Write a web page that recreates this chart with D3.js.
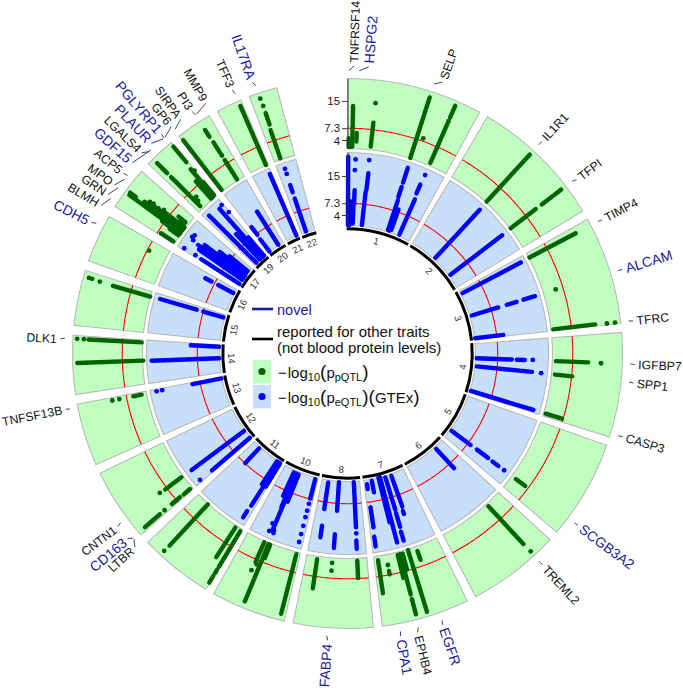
<!DOCTYPE html>
<html>
<head>
<meta charset="utf-8">
<script src="https://cdn.jsdelivr.net/npm/d3@7"></script>
<style>
body { margin:0; background:#fff; }
text { font-family:"Liberation Sans", Arial, sans-serif; }
</style>
</head>
<body>
<script>
var width = 683, height = 688, cx = 347.5, cy = 353.5;

// chromosome sectors, position unit = degrees round the genome circle
var chromNames = ["1","2","3","4","5","6","7","8","10","11","12","13","14","15","16","17","19","20","21","22"];
var chromStart = [0,30.6,60.8,85.6,109.5,132.6,154.2,174.6,193.3,211,228.7,246.2,261.4,275.9,289.7,302.3,313.6,322.2,331.8,339.1];
var chromEnd = [28.7,58.8,83.7,107.7,130.5,152.2,172.7,191.4,209.1,226.6,244.2,259.4,273.8,287.6,299.9,311.5,320.2,329.8,337.2,345.1];

var axisTicks = [4,7.3,15];
var threshold = 7.3;

// columns of overlapping SNPs: [position, lowest -log10p, highest -log10p]
var pqtlRuns = [
	[1.3,2.1,13.6],[0.3,2,4.5],[0.9,2,3.5],[2.4,3.6,6],[6.4,2.5,9.3],[17.8,1.7,19.6],[23.5,2.4,14.4],[23.5,16.3,19.9],
	[42.5,1.9,19.8],[52.5,1.8,10.7],[52.5,12.8,16.4],[52.5,17.2,18.2],[52.5,18.6,19.7],
	[62.2,1.8,16.5],[83.3,2.2,14.1],
	[92.1,2.6,11.7],[95.8,2.6,7.5],[106.9,2.2,7],
	[126.7,3,6.3],
	[137.3,2.4,16.9],
	[171.6,2.7,12.1],[169.2,6.2,7.2],[165.3,2.3,14],[165.3,15.3,19.8],[166,2.3,9],[164.6,2.3,7],[162.9,1.8,20],[160.5,2.9,5.5],
	[177.3,2.3,7.2],[188.4,2.4,10.7],
	[194.3,2.2,19.5],[202.5,2,19.4],[203.8,2,8],[202,2,6],
	[212.8,2.2,12.1],[211.1,2.3,14],[211.1,15,16],[211.1,17,19.2],[222.8,1.8,17.6],
	[233.3,2.2,7.9],[229.3,2.4,4.7],[229.4,6,9],[229.4,13.4,19],
	[258.7,3,5.4],
	[268,1.4,20],[273.1,1.9,16.9],
	[286.1,1.7,12.6],
	[302.8,2.2,6.4],[306,1.9,19.8],[306.5,18,20],[306.8,1.9,15.2],[305.5,1.9,8],[307.3,1.9,13],[307.7,1.9,9.5],[305,2,5],[308.1,2.5,4],[309,2.6,5.1],
	[315,2.5,14.1],[315,15.7,19.7],[319.9,14.3,20],[319.9,2.2,7],[319.2,2,8],[318.6,2,8.5],[319.6,8,12],
	[322.4,2,19.7],[327.6,1.9,8.4],[327.6,10.7,14.3],[327.5,16.2,18.5],
	[336.6,1.7,19.8],
	[341,2,10.4],[341.2,12,15.4]
];
var pqtlDots = [
	[6.4,14.8],[19.4,8.1],[23.5,15.2],[72.9,5.2],[83.4,17.4],[83.4,19.7],[92.2,15.3],[137.2,19.8],[169.2,4.5],
	[184.2,3],[184.2,5.2],[203.9,10.6],[203.3,8.5],[222.9,19.7],[233.4,9.7],[229.4,11.7],[258.7,9.4],[258.7,11.4],
	[273.1,20.1],[273.1,18.2],[286.2,16.5],[286.3,19.7],[286.3,18.8],[297.4,6.8],[327.6,9.9],[341.1,19.7],[341.2,17.5],
	[306.7,15.2],[307.5,14],[307.7,12.9],[307.5,11],[308,9.5],[315.6,4],[316,5.2],[320.1,11]
];
var eqtlRuns = [
	[0.2,1.2,20.4],[0.9,1.2,8],[2.3,1.6,6.1],[2.5,7,11],[6.6,11.4,16.1],[6.4,1.4,10.8],[18,15.6,20],[18,11.4,14.3],[18.2,1.6,10.4],[19.5,2,8],[18.9,1.6,5],[23.3,14.1,16.8],[23.6,1.5,12.4],
	[42.6,1.6,20],[52.6,1.5,19.8],
	[62.3,1.6,20.1],[73,1.6,9.4],[73,11.9,14.8],[73,16.8,20.2],[83.2,1.2,9.2],
	[92.1,1.4,11.3],[92.1,12.7,15],[95.7,1.6,17.2],[106.9,1.3,19.7],
	[126.6,1.5,8.2],[126.6,10.4,14.3],[126.7,15.9,18],
	[137.1,1.7,9.1],
	[171.5,2.2,3.6],[169.2,1.5,4.8],[171.5,8.8,14.5],[171.7,17.1,19.9],[165.3,1,20],[166,1,14],[163,1.5,11],[163.1,12,16],[163.3,17.4,20],[160.3,1.6,10.8],[160.6,12,12.9],
	[177.2,1.3,14],[177.3,17.7,20.1],[188.5,1.7,9.3],[183.8,1.3,9.4],[188.4,14,17.3],[184,16,19.9],
	[194.4,1.5,7.2],[203,1.8,19],[202,1.8,10],[203.3,1.8,12],[204.3,1.8,9],
	[212.3,1.3,15.7],[213.2,1.3,9],[211.5,1.3,9],[212.5,17.6,19.7],[223,1.5,7.2],
	[233.2,1.4,19.8],[229.2,1.3,15.4],
	[258.8,1.2,9.5],
	[267.9,1.2,20.2],[273,1.2,9.2],
	[286.2,1.4,7.3],[286.2,9.2,20],
	[297.9,1.4,6.2],[297.9,8.3,10.3],
	[302.8,1.2,14],[305,1.2,16],[306,1.2,17],[307.2,1.2,15.5],[308.5,1.5,11],[309.5,1.5,8],
	[314.9,1.2,20],[318.5,1.2,19.4],[317,1.2,11],[319.5,1.2,8],
	[327.5,1.3,12.4],[322.6,1.2,5.5],[322.8,7,9.7],
	[336.6,1.2,20.1],
	[341.2,1.3,11.1],[341.2,13,15.1]
];
var eqtlDots = [
	[2.3,16.7],[2.4,19.7],[6.4,19.8],[23.5,19.8],[92,17.2],[95.8,19.8],[126.7,20],[177.2,15.7],
	[194.4,8.7],[194.4,10.7],[194.4,12.6],[194.4,15.1],[194.4,17.5],[194.4,19.8],[203.8,17.3],[203.8,19.6],[202.6,18.9],[202.4,19.7],
	[229.4,19.7],[258.8,19.8],[258.8,18.2],[302.8,19.7],[302.9,16],[306.9,19.7],[307.7,19.4],[306.3,18.9],[319.7,19.8],[320,17],
	[341.3,19.9],[341.3,18.4]
];

// gene labels: real position on the circle, position of the text, novel or not
var geneNames = ["TNFRSF14","HSPG2","SELP","IL1R1","TFPI","TIMP4","ALCAM","TFRC","IGFBP7","SPP1","CASP3","SCGB3A2","TREML2","EGFR","EPHB4","CPA1","FABP4","CNTN1","CD163","LTBR","TNFSF13B","DLK1","CDH5","BLMH","GRN","MPO","ACP5","GDF15","LGALS4","PLAUR","PGLYRP1","GP6","SIRPA","PI3","MMP9","TFF3","IL17RA"];
var genePos = [0.3,2.4,17.8,42.5,52.5,62.2,73,83.4,92.1,95.8,106.9,126.7,137.3,160.5,165.5,169.2,184.2,233.3,229.3,229,258.7,273.1,297.4,303.2,305.8,308,309,316,315.5,319.3,319.6,319.9,322.5,327.5,327.7,336.6,341.1];
var labelPos = [1.3,4.25,19.3,42.5,52.8,62.3,73,83.5,92.2,95.9,106.8,126.7,137.3,160.7,165.9,169.4,184,233,229.9,227.7,258.8,272.9,297.1,301,303.6,305.9,308.8,311.6,314.3,317,319.7,322.2,324.5,327.3,330.5,336.4,340.7];
var geneNovel = [0,1,0,0,0,0,1,0,0,0,0,1,0,1,0,1,1,0,1,0,0,0,1,0,0,0,0,1,0,1,1,0,0,0,0,0,1];

var colGreenBg = "#bfffbf", colBlueBg = "#c8dffc", colGreen = "#006400", colBlue = "#0000ff", colNavy = "#1c1c9c";

var svg = d3.select("body").append("svg").attr("width",width).attr("height",height)
	.style("display","block");
var g = svg.append("g").attr("transform","translate("+cx+","+cy+")");

var angle = d3.scaleLinear().domain([0,360]).range([0,2*Math.PI]);
var rGreen = d3.scaleLinear().domain([1.6,21.3]).range([205,275]);
var rBlue = d3.scaleLinear().domain([1.05,21.6]).range([128,201]);

var chroms = chromNames.map(function(d,i){ return {name:d, start:chromStart[i], end:chromEnd[i]}; });
var arc = d3.arc();

function drawTrack(r, fill, color, runs, dots) {
	var track = g.append("g");
	track.selectAll(".sector").data(chroms).enter().append("path").attr("class","sector")
		.attr("d",function(d){ return arc({innerRadius:r.range()[0], outerRadius:r.range()[1], startAngle:angle(d.start), endAngle:angle(d.end)}); })
		.attr("fill",fill).attr("stroke","#b9b9b9").attr("stroke-width",1.1);

	var thresholdLine = d3.lineRadial().angle(function(a){ return angle(a); }).radius(r(threshold));
	track.selectAll(".thr").data(chroms).enter().append("path").attr("class","thr")
		.attr("d",function(d){ return thresholdLine(d3.range(d.start,d.end,0.5).concat(d.end)); })
		.attr("fill","none").attr("stroke","#ff0000").attr("stroke-width",1.1);

	var runLine = d3.lineRadial().angle(function(p){ return angle(p[0]); }).radius(function(p){ return r(p[1]); });
	track.selectAll(".run").data(runs).enter().append("path").attr("class","run")
		.attr("d",function(d){ return runLine([[d[0],d[1]],[d[0],d[2]]]); })
		.attr("stroke",color).attr("stroke-width",4.4).attr("stroke-linecap","round").attr("fill","none");

	track.selectAll(".dot").data(dots).enter().append("circle").attr("class","dot")
		.attr("transform",function(d){ var p = d3.pointRadial(angle(d[0]),r(d[1])); return "translate("+p[0]+","+p[1]+")"; })
		.attr("r",2.4).attr("fill",color);
}

drawTrack(rGreen,colGreenBg,colGreen,pqtlRuns,pqtlDots);
drawTrack(rBlue,colBlueBg,colBlue,eqtlRuns,eqtlDots);

// chromosome ring
g.selectAll(".chr").data(chroms).enter().append("path").attr("class","chr")
	.attr("d",function(d){ return arc({innerRadius:123.2, outerRadius:126.2, startAngle:angle(d.start-0.4), endAngle:angle(d.end+0.4)}); })
	.attr("fill","#000");
g.selectAll(".chrlab").data(chroms).enter().append("text").attr("class","chrlab")
	.attr("transform",function(d){
		var a = (d.start+d.end)/2, p = d3.pointRadial(angle(a),116);
		var rot = a<90 ? a : (a<270 ? a-180 : a-360);
		return "translate("+p[0]+","+p[1]+") rotate("+rot+")";
	})
	.attr("text-anchor","middle").attr("dy","0.35em").attr("font-size",9.5).attr("fill","#333")
	.text(function(d){ return d.name; });

// y axes at the start of chromosome 1
function drawAxis(r) {
	var y = r.copy().range(r.range().map(function(v){ return -v; }));
	var ax = g.append("g").call(d3.axisLeft(y).tickValues(axisTicks).tickSize(5.5).tickSizeOuter(0).tickFormat(function(d){ return d; }));
	ax.selectAll("text").attr("font-family","Liberation Sans").attr("font-size",11.4).attr("fill","#222").attr("x",-7.5)
		.attr("dy",function(d){ return d==7.3 ? "0.27em" : (d==4 ? "0.4em" : "0.32em"); });
	ax.selectAll("line").attr("stroke","#333");
	ax.select(".domain").attr("stroke","#333");
}
drawAxis(rGreen);
drawAxis(rBlue);

// gene labels
var genes = geneNames.map(function(d,i){ return {name:d, pos:genePos[i], lab:labelPos[i], novel:geneNovel[i]}; });
var tickLine = d3.lineRadial().angle(function(p){ return angle(p[0]); }).radius(function(p){ return p[1]; });
g.selectAll(".conn").data(genes).enter().append("path").attr("class","conn")
	.attr("d",function(d){ return tickLine([[d.pos,283],[d.lab,287.5]]); })
	.attr("fill","none").attr("stroke",function(d){ return d.novel ? colNavy : "#333"; }).attr("stroke-width",0.9);
g.selectAll(".gene").data(genes).enter().append("text").attr("class","gene")
	.attr("transform",function(d){
		return d.lab<180 ? "rotate("+(d.lab-90)+") translate(291,0)" : "rotate("+(d.lab+90)+") translate(-291,0)";
	})
	.attr("text-anchor",function(d){ return d.lab<180 ? "start" : "end"; })
	.attr("dy","0.35em")
	.attr("font-size",function(d){ return d.novel ? 14 : 12.2; })
	.attr("fill",function(d){ return d.novel ? colNavy : "#111"; })
	.text(function(d){ return d.name; });

// legend
var leg = svg.append("g");
leg.append("line").attr("x1",252).attr("x2",273).attr("y1",309).attr("y2",309).attr("stroke",colNavy).attr("stroke-width",2.6);
leg.append("line").attr("x1",252).attr("x2",273).attr("y1",339).attr("y2",339).attr("stroke","#000").attr("stroke-width",2.6);
leg.append("text").attr("x",277).attr("y",314.5).attr("font-size",14.5).attr("fill",colNavy).text("novel");
leg.append("text").attr("x",277).attr("y",337).attr("font-size",15).attr("fill","#111").text("reported for other traits");
leg.append("text").attr("x",277).attr("y",353).attr("font-size",15).attr("fill","#111").text("(not blood protein levels)");
leg.append("rect").attr("x",253).attr("y",360).attr("width",18).attr("height",23.5).attr("fill",colGreenBg);
leg.append("rect").attr("x",253).attr("y",385).attr("width",18).attr("height",23.5).attr("fill",colBlueBg);
leg.append("circle").attr("cx",262).attr("cy",371.5).attr("r",3.6).attr("fill",colGreen);
leg.append("circle").attr("cx",262).attr("cy",396.5).attr("r",3.6).attr("fill",colBlue);

function mathLabel(y, sub, tail) {
	var t = leg.append("text").attr("x",278).attr("y",y).attr("font-size",15).attr("fill","#111");
	t.append("tspan").text("\u2212");
	t.append("tspan").attr("dx",1).text("log");
	t.append("tspan").attr("font-size",11).attr("dy",3).text("10");
	t.append("tspan").attr("font-size",19).attr("dy",-3).text("(");
	t.append("tspan").text("p");
	t.append("tspan").attr("font-size",11).attr("dy",3).text(sub);
	t.append("tspan").attr("font-size",19).attr("dy",-3).text(")");
	if (tail) {
		t.append("tspan").attr("font-size",19).text("(");
		t.append("tspan").text(tail);
		t.append("tspan").attr("font-size",19).text(")");
	}
}
mathLabel(377.5,"pQTL");
mathLabel(402.5,"eQTL","GTEx");
</script>
</body>
</html>
